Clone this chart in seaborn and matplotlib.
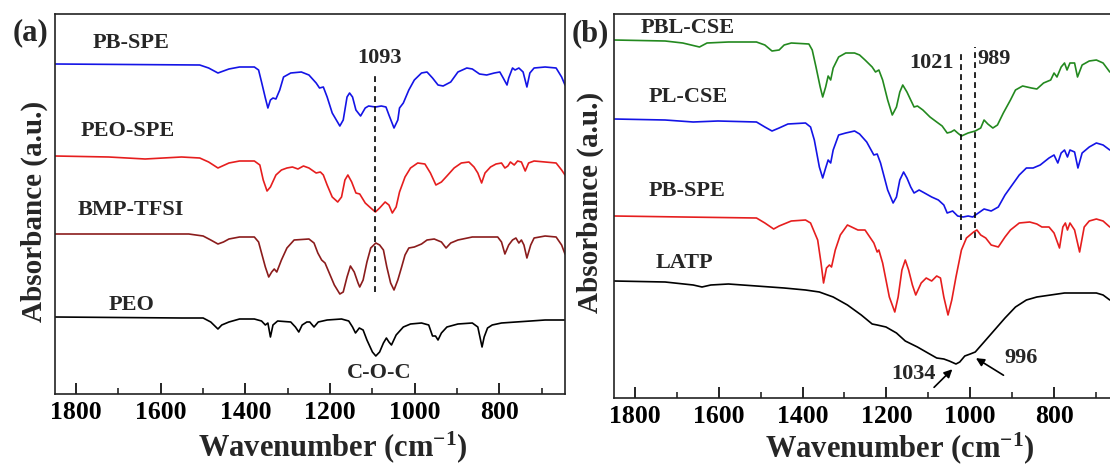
import matplotlib
matplotlib.use("Agg")
import matplotlib.pyplot as plt
import seaborn as sns
import pandas as pd

# ---------------- data: panel (a) ----------------
a_pbspe_wn = [1850,1508,1487,1465,1439,1414,1379,1369,1362,1353,1347,1341,1335,1328,1319,1310,1293,1268,1250,1233,1225,1216,1207,1195,1177,1169,1160,1154,1147,1139,1128,1117,1109,1093,1079,1068,1061,1049,1040,1036,1027,1014,1001,984,971,958,945,933,915,898,877,864,847,830,812,799,791,782,778,769,763,754,744,735,728,718,692,666,653,645]
a_pbspe_ab = [3.30,3.29,3.26,3.21,3.25,3.27,3.27,3.24,3.12,2.96,2.86,2.94,2.96,2.95,3.04,3.17,3.21,3.22,3.19,3.11,3.06,3.07,2.97,2.81,2.68,2.74,2.97,3.01,2.97,2.84,2.78,2.86,2.88,2.87,2.88,2.87,2.79,2.66,2.74,2.86,2.91,3.04,3.14,3.21,3.22,3.16,3.09,3.08,3.12,3.22,3.26,3.25,3.20,3.19,3.21,3.22,3.16,3.09,3.16,3.26,3.24,3.26,3.22,3.07,3.21,3.26,3.27,3.26,3.17,3.09]

a_peospe_wn = [1850,1723,1637,1551,1508,1487,1465,1439,1414,1379,1366,1358,1349,1341,1328,1315,1302,1289,1276,1263,1250,1233,1223,1216,1207,1195,1182,1173,1165,1158,1149,1139,1130,1117,1104,1093,1083,1070,1061,1053,1044,1036,1023,1010,993,976,963,950,937,924,907,890,872,860,851,842,834,821,808,795,787,780,774,765,757,748,739,731,718,692,666,653,645]
a_peospe_ab = [2.38,2.37,2.35,2.37,2.36,2.32,2.26,2.31,2.33,2.33,2.29,2.14,2.03,2.07,2.19,2.24,2.26,2.27,2.25,2.28,2.26,2.21,2.22,2.19,2.09,1.97,1.92,1.97,2.14,2.19,2.12,2.01,2.00,1.91,1.86,1.82,1.86,1.92,1.89,1.81,1.87,2.02,2.17,2.26,2.31,2.30,2.21,2.09,2.12,2.18,2.26,2.31,2.32,2.27,2.21,2.11,2.21,2.27,2.30,2.31,2.26,2.28,2.32,2.29,2.33,2.32,2.23,2.31,2.33,2.32,2.31,2.24,2.19]

a_bmp_wn = [1850,1534,1500,1482,1465,1452,1439,1414,1379,1369,1362,1353,1345,1338,1332,1326,1315,1302,1285,1250,1238,1229,1220,1212,1203,1190,1177,1169,1160,1152,1143,1134,1130,1122,1113,1104,1092,1083,1074,1066,1057,1049,1040,1031,1023,1014,1001,984,971,954,937,926,915,898,864,830,804,795,787,778,769,761,754,748,742,735,726,718,692,666,653,645]
a_bmp_ab = [1.60,1.60,1.58,1.54,1.50,1.52,1.55,1.57,1.57,1.52,1.41,1.27,1.17,1.22,1.25,1.22,1.34,1.46,1.54,1.55,1.51,1.41,1.34,1.31,1.22,1.09,1.00,1.02,1.17,1.28,1.22,1.11,1.07,1.14,1.32,1.46,1.51,1.49,1.44,1.27,1.11,1.04,1.14,1.27,1.39,1.46,1.47,1.50,1.54,1.55,1.52,1.46,1.51,1.54,1.57,1.57,1.57,1.52,1.40,1.49,1.54,1.56,1.51,1.54,1.49,1.36,1.49,1.56,1.58,1.57,1.49,1.40]

a_peo_wn = [1850,1551,1500,1482,1465,1456,1439,1414,1379,1362,1353,1347,1341,1335,1324,1293,1282,1274,1266,1255,1248,1238,1228,1207,1173,1156,1147,1140,1131,1122,1113,1100,1092,1083,1074,1067,1061,1055,1044,1027,1010,984,967,958,951,945,937,924,898,864,851,846,841,836,828,817,795,761,726,692,645]
a_peo_ab = [0.77,0.76,0.76,0.72,0.65,0.69,0.72,0.75,0.75,0.73,0.69,0.71,0.57,0.69,0.73,0.72,0.67,0.62,0.69,0.72,0.72,0.67,0.72,0.74,0.75,0.73,0.67,0.61,0.66,0.64,0.54,0.42,0.38,0.42,0.51,0.56,0.52,0.49,0.59,0.67,0.70,0.71,0.69,0.58,0.58,0.54,0.61,0.67,0.70,0.71,0.67,0.57,0.47,0.57,0.66,0.69,0.71,0.72,0.73,0.74,0.74]

# ---------------- data: panel (b) ----------------
b_pbl_wn = [1850,1728,1686,1646,1628,1577,1510,1490,1473,1456,1444,1427,1385,1377,1368,1358,1352,1345,1339,1333,1327,1314,1297,1276,1264,1251,1234,1226,1218,1209,1197,1186,1176,1168,1161,1151,1142,1134,1126,1113,1096,1080,1067,1055,1046,1038,1030,1021,1005,988,975,967,958,946,935,921,904,892,875,854,841,825,808,800,793,783,775,769,762,751,744,733,716,699,683,667]
b_pbl_ab = [3.58,3.57,3.55,3.51,3.55,3.56,3.56,3.53,3.47,3.48,3.53,3.55,3.54,3.48,3.31,3.11,3.01,3.11,3.22,3.18,3.30,3.41,3.45,3.45,3.43,3.38,3.31,3.26,3.28,3.18,2.98,2.83,2.91,3.06,3.13,3.06,2.98,2.91,2.92,2.88,2.81,2.76,2.72,2.65,2.66,2.68,2.65,2.62,2.65,2.67,2.70,2.78,2.74,2.70,2.73,2.85,2.98,3.08,3.12,3.10,3.09,3.15,3.18,3.25,3.21,3.31,3.35,3.28,3.35,3.35,3.21,3.33,3.37,3.38,3.35,3.26]

b_pl_wn = [1850,1728,1661,1602,1510,1490,1473,1456,1435,1393,1381,1372,1360,1352,1345,1339,1333,1327,1314,1297,1276,1264,1247,1230,1222,1214,1197,1184,1176,1168,1159,1151,1142,1134,1122,1109,1092,1076,1063,1055,1042,1030,1017,1005,994,984,967,950,933,917,900,883,866,850,833,812,800,791,783,775,768,762,751,743,733,716,699,683,667]
b_pl_ab = [2.79,2.78,2.76,2.77,2.76,2.71,2.67,2.70,2.74,2.75,2.71,2.58,2.31,2.20,2.30,2.38,2.35,2.48,2.63,2.65,2.67,2.64,2.56,2.43,2.44,2.35,2.08,1.95,2.01,2.18,2.26,2.20,2.11,2.05,2.08,2.05,2.01,1.98,1.93,1.85,1.87,1.82,1.81,1.82,1.81,1.84,1.89,1.87,1.91,2.03,2.13,2.23,2.30,2.30,2.33,2.40,2.43,2.35,2.45,2.48,2.41,2.48,2.46,2.30,2.45,2.51,2.55,2.53,2.48]

b_pb_wn = [1850,1686,1510,1490,1469,1456,1427,1393,1381,1364,1356,1350,1343,1336,1331,1322,1310,1293,1268,1251,1230,1222,1218,1209,1193,1180,1172,1163,1155,1147,1138,1130,1117,1105,1092,1080,1071,1063,1053,1044,1034,1021,1009,992,984,975,963,950,933,917,904,883,858,841,829,812,800,787,779,773,768,762,751,739,728,716,699,683,667]
b_pb_ab = [1.82,1.81,1.80,1.75,1.69,1.72,1.77,1.78,1.75,1.58,1.35,1.15,1.30,1.33,1.31,1.48,1.63,1.73,1.68,1.68,1.55,1.46,1.48,1.35,1.01,0.86,1.01,1.28,1.38,1.28,1.13,1.03,1.15,1.20,1.17,1.22,1.20,1.01,0.83,0.98,1.21,1.48,1.60,1.66,1.68,1.63,1.60,1.53,1.51,1.61,1.68,1.75,1.76,1.74,1.71,1.71,1.65,1.50,1.71,1.75,1.68,1.75,1.68,1.46,1.71,1.77,1.79,1.77,1.71]

b_latp_wn = [1850,1728,1661,1640,1619,1577,1510,1444,1393,1360,1327,1293,1260,1234,1222,1201,1176,1155,1126,1101,1080,1063,1050,1034,1025,1013,1000,988,967,942,917,892,866,841,808,775,741,699,683,667]
b_latp_ab = [1.17,1.16,1.13,1.11,1.13,1.14,1.12,1.10,1.08,1.06,1.01,0.93,0.83,0.74,0.73,0.71,0.65,0.57,0.51,0.45,0.40,0.39,0.37,0.34,0.36,0.42,0.44,0.46,0.56,0.68,0.80,0.91,0.98,1.01,1.03,1.05,1.05,1.05,1.03,0.98]

a_names = ["PB-SPE", "PEO-SPE", "BMP-TFSI", "PEO"]
a_colors = ["#1414e6", "#e61e1e", "#8b1c1c", "#000000"]
b_names = ["PBL-CSE", "PL-CSE", "PB-SPE", "LATP"]
b_colors = ["#23891f", "#1414e6", "#e61e1e", "#000000"]

label_a_pos = [(1670, 3.51), (1677, 2.63), (1671, 1.84), (1668, 0.89)]
label_b_pos = [(1674, 3.70), (1673, 3.01), (1676, 2.07), (1681, 1.35)]

xticks = [1800, 1600, 1400, 1200, 1000, 800]

# ---------------- style ----------------
sns.set_theme(style="white")
plt.rcParams["font.family"] = ["Liberation Serif", "DejaVu Serif"]
plt.rcParams["font.weight"] = "bold"
plt.rcParams["mathtext.fontset"] = "custom"
plt.rcParams["mathtext.rm"] = "Liberation Serif:bold"
plt.rcParams["mathtext.bf"] = "Liberation Serif:bold"
plt.rcParams["mathtext.it"] = "Liberation Serif:bold"

fig = plt.figure(figsize=(11.1, 4.66), dpi=100)
ax1 = fig.add_axes([55/1110, 72/466, 510/1110, 380/466])
ax2 = fig.add_axes([614/1110, 68/466, 505/1110, 384/466])

def draw(ax, wns, abss, colors):
    for wn, ab, c in zip(wns, abss, colors):
        df = pd.DataFrame({"wn": wn, "ab": ab})
        sns.lineplot(data=df, x="wn", y="ab", color=c, lw=1.2, ax=ax,
                     estimator=None, sort=False)

draw(ax1, [a_pbspe_wn, a_peospe_wn, a_bmp_wn, a_peo_wn],
     [a_pbspe_ab, a_peospe_ab, a_bmp_ab, a_peo_ab], a_colors)
draw(ax2, [b_pbl_wn, b_pl_wn, b_pb_wn, b_latp_wn],
     [b_pbl_ab, b_pl_ab, b_pb_ab, b_latp_ab], b_colors)

for ax, ylim in ((ax1, 3.80), (ax2, 3.84)):
    ax.set_xlim(1850, 645)
    ax.set_ylim(0, ylim)
    ax.set_xticks(xticks)
    ax.set_xticks([1700, 1500, 1300, 1100, 900, 700], minor=True)
    ax.set_yticks([])
    ax.tick_params(axis="x", which="major", direction="in", length=8, width=1.2,
                   labelsize=18.5, pad=5, bottom=True, top=False, colors="black")
    ax.tick_params(axis="x", which="minor", direction="in", length=4, width=1.2,
                   bottom=True, top=False)
    for lab in ax.get_xticklabels():
        lab.set_fontweight("bold")
    for sp in ax.spines.values():
        sp.set_color("#222222")
        sp.set_linewidth(1.2)
    ax.set_xlabel(r"Wavenumber (cm$^{-1}$)", fontsize=22, fontweight="bold")
    ax.set_ylabel("Absorbance (a.u.)", fontsize=21, fontweight="bold")

ax1.xaxis.set_label_coords(0.545, -0.092)
ax2.xaxis.set_label_coords(0.566, -0.085)
ax1.yaxis.set_label_coords(-0.014, 0.48)
ax2.yaxis.set_label_coords(-0.02, 0.508)

for (x, y), name in zip(label_a_pos, a_names):
    ax1.text(x, y, name, fontsize=16, fontweight="bold", ha="center", va="center")
for (x, y), name in zip(label_b_pos, b_names):
    ax2.text(x, y, name, fontsize=16, fontweight="bold", ha="center", va="center")

dash = (0, (3.5, 2.5))
ax1.plot([1093, 1093], [1.02, 3.22], color="black", lw=1.2, ls=dash)
ax1.text(1083, 3.36, "1093", fontsize=16, fontweight="bold", ha="center", va="center")
ax1.text(1083, 0.21, "C-O-C", fontsize=16, fontweight="bold", ha="center", va="center")

ax2.plot([1021, 1021], [1.58, 3.48], color="black", lw=1.2, ls=dash)
ax2.plot([989, 989], [1.60, 3.51], color="black", lw=1.2, ls=dash)
ax2.text(1093, 3.35, "1021", fontsize=16, fontweight="bold", ha="center", va="center")
ax2.text(942, 3.39, "989", fontsize=16, fontweight="bold", ha="center", va="center")
ax2.text(1136, 0.24, "1034", fontsize=16, fontweight="bold", ha="center", va="center")
ax2.text(879, 0.40, "996", fontsize=16, fontweight="bold", ha="center", va="center")
ax2.annotate("", xy=(1038, 0.307), xytext=(1091, 0.087),
             arrowprops=dict(arrowstyle="-|>", color="black", lw=1.2, mutation_scale=12))
ax2.annotate("", xy=(992, 0.413), xytext=(915, 0.213),
             arrowprops=dict(arrowstyle="-|>", color="black", lw=1.2, mutation_scale=12))

fig.text(30.6/1110, 1 - 33/466, "(a)", fontsize=22, fontweight="bold", ha="center", va="center")
fig.text(590/1110, 1 - 33.3/466, "(b)", fontsize=22, fontweight="bold", ha="center", va="center")

fig.savefig("out.png", dpi=100)
